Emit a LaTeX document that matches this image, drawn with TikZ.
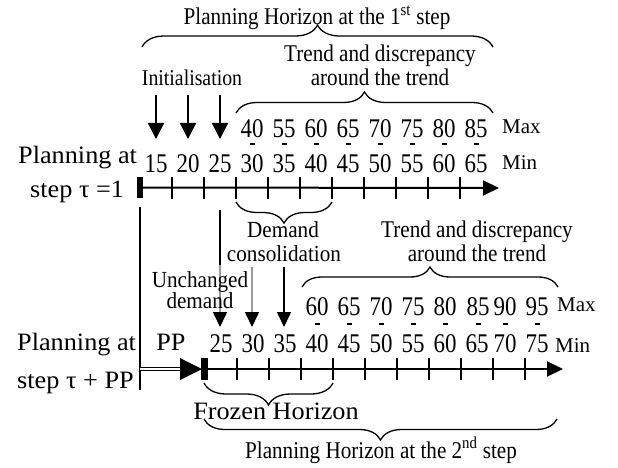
\documentclass[tikz,border=0pt]{standalone}
\usepackage{fontspec}
\setmainfont{Liberation Serif}
\newfontfamily\numfont[FakeStretch=0.85]{Liberation Serif}
\newfontfamily\txtfont[FakeStretch=0.88]{Liberation Serif}
\newfontfamily\notefont[FakeStretch=0.92]{Liberation Serif}
\newfontfamily\lblfont[FakeStretch=1.05]{Liberation Serif}
\usetikzlibrary{arrows.meta,decorations.pathreplacing}
\begin{document}
\begin{tikzpicture}[x=1pt,y=-1pt,
  num/.style={font=\numfont\fontsize{27}{29}\selectfont, inner sep=0pt, anchor=base},
  mm/.style={font=\fontsize{21}{23}\selectfont, inner sep=0pt, anchor=base west},
  ttl/.style={font=\txtfont\fontsize{24}{26}\selectfont, inner sep=0pt, anchor=base},
  ini/.style={font=\txtfont\fontsize{22.5}{24}\selectfont, inner sep=0pt, anchor=base},
  note/.style={font=\notefont\fontsize{23}{25}\selectfont, inner sep=0pt, anchor=base},
  lbl/.style={font=\lblfont\fontsize{25}{27}\selectfont, inner sep=0pt},
  bar/.style={fill=black, draw=none, inner sep=0pt, minimum width=6.5pt, minimum height=21.5pt},
  axisline/.style={line width=2pt, -{Triangle[length=16pt,width=15pt]}},
  tickmark/.style={line width=1.4pt},
  vline/.style={line width=1.6pt},
  darrow/.style={line width=1.6pt, -{Triangle[length=16pt,width=16pt]}},
  sarrow/.style={line width=1.6pt, -{Triangle[length=15pt,width=14pt]}},
  dashmark/.style={line width=2pt},
  brc/.style={decorate, decoration={brace, amplitude=#1}, line width=1.3pt},
  mbrc/.style={decorate, decoration={brace, mirror, amplitude=#1}, line width=1.3pt}
]
\useasboundingbox (0,0) rectangle (618,468);

% ---------- top part ----------
\node[ttl] (title1) at (317,25) {Planning Horizon at the 1\textsuperscript{st} step};
\draw[brc=22pt] (142,47) -- (493,47);
\node[ttl] (trend1a) at (380,62) {Trend and discrepancy};
\node[ttl] (trend1b) at (380,86) {around the trend};
\node[ini] (init) at (192,86) {Initialisation};
\draw[brc=21pt] (236,113) -- (493,113);

% initialisation arrows
\foreach \i in {0,1,2} {
  \coordinate (ia\i) at (156+32*\i,95);
  \coordinate (ib\i) at (156+32*\i,139);
  \draw[darrow] (ia\i) -- (ib\i);
}

% max / min row 1
\foreach \v [count=\i from 0] in {40,55,60,65,70,75,80,85} {
  \node[num] (mx\i) at (252+32*\i,137) {\v};
  \draw[dashmark] (249.5+32*\i,144) -- (254.5+32*\i,144);
}
\node[mm] (max1) at (502,133) {Max};
\foreach \v [count=\i from 0] in {15,20,25,30,35,40,45,50,55,60,65} {
  \node[num] (mn\i) at (156+32*\i,172) {\v};
}
\node[mm] (min1) at (502,169) {Min};

\node[lbl, anchor=base west] (pa1) at (18,163) {Planning at};
\node[lbl, anchor=base west] (st1) at (30,197) {step τ =1};

% axis 1
\node[bar] (bar1) at (140,187.5) {};
\coordinate (a1end) at (499,188);
\draw[axisline] (bar1.center) -- (a1end);
\foreach \k in {1,...,10} {
  \draw[tickmark] (140+32*\k,177) -- (140+32*\k,199);
}

% demand consolidation
\draw[mbrc=21pt] (236,202) -- (332,202);
\node[note] (dem) at (283,237) {Demand};
\node[note] (cons) at (284,261) {consolidation};

\node[ttl] (trend2a) at (477,237) {Trend and discrepancy};
\node[ttl] (trend2b) at (477,261) {around the trend};
\draw[brc=20pt] (302,287) -- (558,287);

% connectors between the two steps
\coordinate (v1top) at (140,207);
\coordinate (v1bot) at (140,390);
\draw[vline] (v1top) -- (v1bot);
\coordinate (c25a) at (220,210);
\coordinate (c25b) at (220,327);
\draw[sarrow] (c25a) -- (c25b);
\coordinate (c30a) at (252,267);
\coordinate (c30b) at (252,327);
\draw[sarrow] (c30a) -- (c30b);
\coordinate (c35a) at (284,267);
\coordinate (c35b) at (284,327);
\draw[sarrow] (c35a) -- (c35b);

% unchanged demand (semi-transparent box)
\fill[white, opacity=0.6] (149,265) rectangle (255,312);
\node[note] (unch) at (200,287) {Unchanged};
\node[note] (udem) at (200,308) {demand};

% max / min row 2
\foreach \v/\x in {60/317,65/349,70/381,75/413,80/445,85/478,90/505,95/537} {
  \node[num] (my\v) at (\x,315) {\v};
  \draw[dashmark] (\x-2.5,324) -- (\x+2.5,324);
}
\node[mm] (max2) at (557,311) {Max};
\foreach \v/\x in {25/221,30/253,35/285,40/317,45/349,50/381,55/413,60/445,65/477,70/505,75/537} {
  \node[num] (mz\v) at (\x,352) {\v};
}
\node[mm] (min2) at (555,352) {Min};

\node[lbl, anchor=base] (pp) at (171,350) {PP};
\node[lbl, anchor=base west] (pa2) at (17,350) {Planning at};
\node[lbl, anchor=base west] (st2) at (17,388) {step τ + PP};

% axis 2
\node[bar] (bar2) at (204.5,369) {};
\coordinate (a2end) at (563,369);
\draw[axisline] (bar2.center) -- (a2end);
\foreach \k in {1,...,10} {
  \draw[tickmark] (205+32*\k,358) -- (205+32*\k,380);
}

% double arrow from step 1 to step 2
\coordinate (dstart) at (140,369);
\coordinate (dend) at (182,369);
\draw[double, double distance=2.4pt, line width=1.1pt] (dstart) -- (dend);
\fill (180,358) -- (202,369) -- (180,380) -- cycle;

% frozen horizon and planning horizon 2
\draw[mbrc=22pt] (204,383) -- (333,383);
\node[lbl, anchor=base] (frozen) at (276,419) {Frozen Horizon};
\draw[mbrc=21pt] (204,419) -- (557,419);
\node[ttl] (title2) at (381,458) {Planning Horizon at the 2\textsuperscript{nd} step};
\end{tikzpicture}
\end{document}
